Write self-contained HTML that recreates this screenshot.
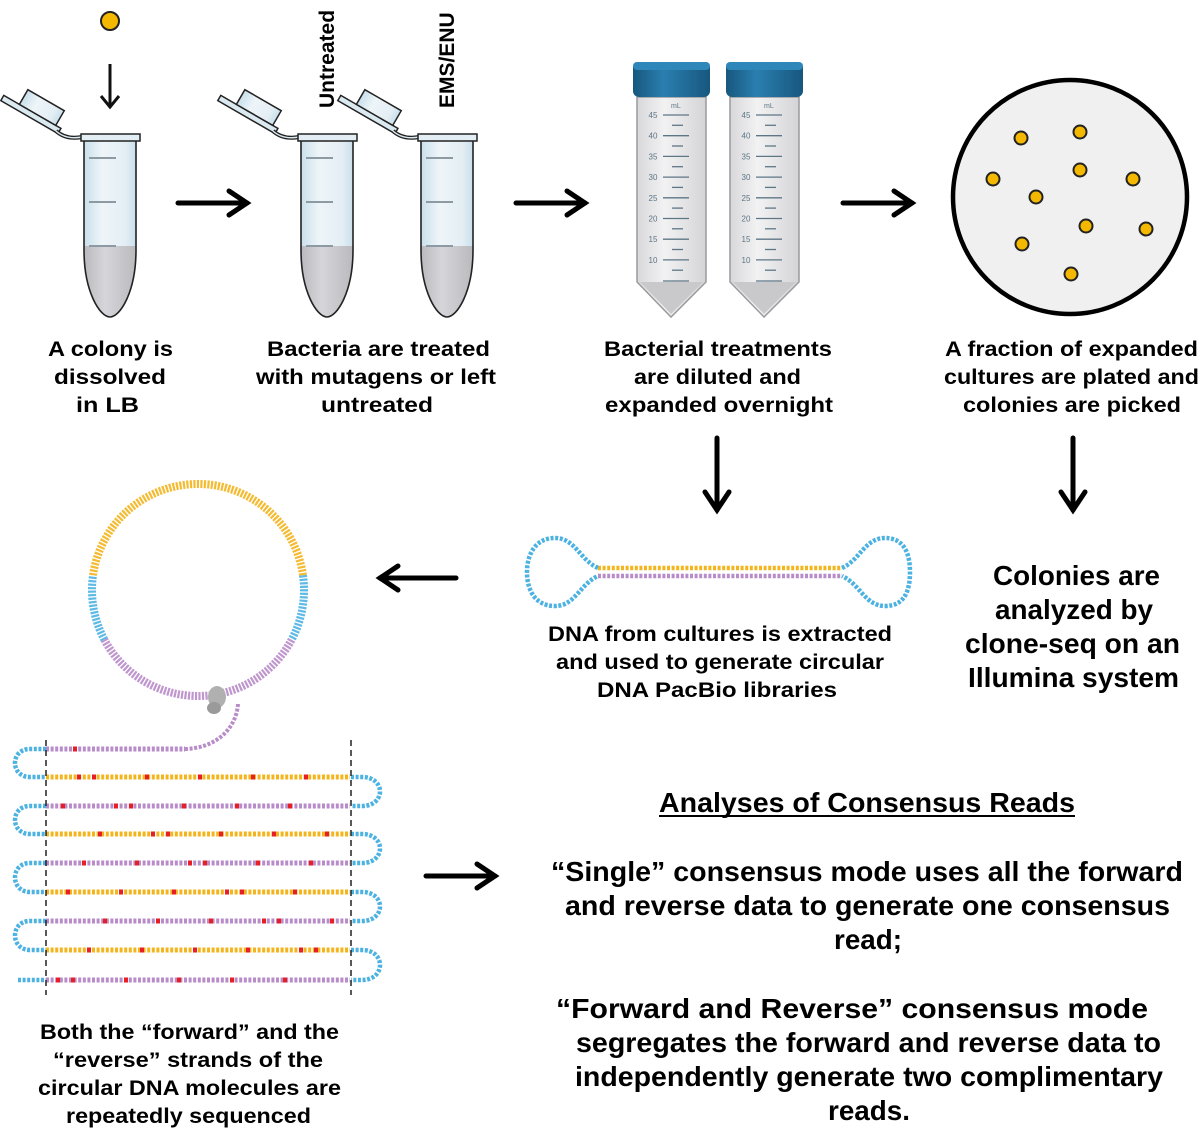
<!DOCTYPE html>
<html><head><meta charset="utf-8"><style>
html,body{margin:0;padding:0;background:#fff}
svg{display:block}
text{font-family:"Liberation Sans",Arial,sans-serif;font-weight:bold;fill:#000}
</style></head><body>
<svg id="s" width="1200" height="1130" viewBox="0 0 1200 1130" xmlns="http://www.w3.org/2000/svg">
<defs>
<linearGradient id="tg" x1="0" x2="1" y1="0" y2="0">
<stop offset="0" stop-color="#c9dfeb"/><stop offset="0.35" stop-color="#eef5f9"/><stop offset="0.8" stop-color="#e3eef4"/><stop offset="1" stop-color="#c9dfeb"/></linearGradient>
<linearGradient id="lg" x1="0" x2="1"><stop offset="0" stop-color="#b9b9be"/><stop offset="0.4" stop-color="#d6d6da"/><stop offset="1" stop-color="#b9b9be"/></linearGradient>
<linearGradient id="cg" x1="0" x2="1"><stop offset="0" stop-color="#17577e"/><stop offset="0.4" stop-color="#2a7fb0"/><stop offset="1" stop-color="#17577e"/></linearGradient>
<linearGradient id="bg" x1="0" x2="1"><stop offset="0" stop-color="#d8d8db"/><stop offset="0.4" stop-color="#f2f2f3"/><stop offset="1" stop-color="#d4d4d7"/></linearGradient>
<g id="ep">
<g transform="translate(30,114) rotate(30)">
<rect x="-32" y="-3" width="66" height="6" fill="#dbe9f1" stroke="#222" stroke-width="1.5"/>
<rect x="-14" y="-20" width="42" height="17" fill="url(#tg)" stroke="#222" stroke-width="1.5"/>
</g>
<path d="M56,131 Q66,140 82,137" fill="none" stroke="#222" stroke-width="4"/>
<path d="M56,131 Q66,140 82,137" fill="none" stroke="#dbe9f1" stroke-width="1.5"/>
<path d="M84,141 L84,250 C84,292 100,317 110,317 C120,317 136,292 136,250 L136,141 Z" fill="url(#tg)"/>
<path d="M84,246 L84,250 C84,292 100,317 110,317 C120,317 136,292 136,250 L136,246 Z" fill="url(#lg)"/>
<path d="M84,141 L84,250 C84,292 100,317 110,317 C120,317 136,292 136,250 L136,141" fill="none" stroke="#222" stroke-width="1.6"/>
<rect x="81" y="134" width="59" height="7" fill="#e3eef4" stroke="#222" stroke-width="1.5"/>
<g stroke="#8d9aa3" stroke-width="2"><line x1="89" y1="158" x2="116" y2="158"/><line x1="89" y1="202" x2="116" y2="202"/><line x1="89" y1="246" x2="116" y2="246"/></g>
</g>
<g id="fal">
<path d="M637,97 L637,282 L671,317 L706,282 L706,97 Z" fill="url(#bg)" stroke="#9a9a9e" stroke-width="1.5"/>
<path d="M640,282 L671,314 L703,282 Z" fill="#c9c9cc"/>
<rect x="633" y="62" width="77" height="35" rx="6" fill="url(#cg)"/>
<rect x="633" y="62" width="77" height="8" rx="4" fill="#2f86b8"/>
<text x="671" y="108" style="font-weight:normal;fill:#5d7686" font-size="7">mL</text>
</g>
</defs>

<circle cx="110" cy="21" r="9" fill="#f5b800" stroke="#222" stroke-width="2"/>
<g stroke="#111" stroke-width="3" fill="none"><line x1="110" y1="64" x2="110" y2="106"/><polyline points="101,96 110,107 119,96"/></g>

<use href="#ep"/>
<use href="#ep" x="217"/>
<use href="#ep" x="337"/>
<text transform="translate(334,108) rotate(-90)" font-size="21">Untreated</text>
<text transform="translate(454,108) rotate(-90)" font-size="21">EMS/ENU</text>

<use href="#fal"/>
<use href="#fal" x="93"/>
<g id="grad"></g>

<circle cx="1070" cy="197" r="117" fill="#f0f0f0" stroke="#000" stroke-width="4.5"/>
<g fill="#f5b800" stroke="#222" stroke-width="2">
<circle cx="1021" cy="138" r="6.5"/><circle cx="1080" cy="132" r="6.5"/><circle cx="1080" cy="170" r="6.5"/>
<circle cx="993" cy="179" r="6.5"/><circle cx="1036" cy="197" r="6.5"/><circle cx="1133" cy="179" r="6.5"/>
<circle cx="1022" cy="244" r="6.5"/><circle cx="1086" cy="226" r="6.5"/><circle cx="1146" cy="229" r="6.5"/>
<circle cx="1071" cy="274" r="6.5"/>
</g>

<g stroke="#000" stroke-width="5" fill="none" stroke-linecap="round">
<line x1="178" y1="203" x2="247" y2="203"/><polyline points="229,191 247,203 229,215"/>
<line x1="516" y1="203" x2="585" y2="203"/><polyline points="567,191 585,203 567,215"/>
<line x1="843" y1="203" x2="912" y2="203"/><polyline points="894,191 912,203 894,215"/>
<line x1="717" y1="438" x2="717" y2="510"/><polyline points="705,492 717,510 729,492"/>
<line x1="1073" y1="438" x2="1073" y2="510"/><polyline points="1061,492 1073,510 1085,492"/>
<line x1="456" y1="578" x2="380" y2="578"/><polyline points="398,566 380,578 398,590"/>
<line x1="426" y1="876" x2="495" y2="876"/><polyline points="477,864 495,876 477,888"/>
</g>

<g id="dna"></g>

<g font-size="21">
<text x="48" y="356" textLength="125" lengthAdjust="spacingAndGlyphs">A colony is</text><text x="54" y="384" textLength="112" lengthAdjust="spacingAndGlyphs">dissolved</text><text x="76" y="412" textLength="63" lengthAdjust="spacingAndGlyphs">in LB</text>
<text x="267" y="356" textLength="223" lengthAdjust="spacingAndGlyphs">Bacteria are treated</text><text x="256" y="384" textLength="240" lengthAdjust="spacingAndGlyphs">with mutagens or left</text><text x="321" y="412" textLength="112" lengthAdjust="spacingAndGlyphs">untreated</text>
<text x="604" y="356" textLength="228" lengthAdjust="spacingAndGlyphs">Bacterial treatments</text><text x="634" y="384" textLength="167" lengthAdjust="spacingAndGlyphs">are diluted and</text><text x="605" y="412" textLength="228" lengthAdjust="spacingAndGlyphs">expanded overnight</text>
<text x="945" y="356" textLength="253" lengthAdjust="spacingAndGlyphs">A fraction of expanded</text><text x="944" y="384" textLength="255" lengthAdjust="spacingAndGlyphs">cultures are plated and</text><text x="963" y="412" textLength="218" lengthAdjust="spacingAndGlyphs">colonies are picked</text>
<text x="548" y="641" textLength="344" lengthAdjust="spacingAndGlyphs">DNA from cultures is extracted</text><text x="556" y="669" textLength="328" lengthAdjust="spacingAndGlyphs">and used to generate circular</text><text x="597" y="697" textLength="240" lengthAdjust="spacingAndGlyphs">DNA PacBio libraries</text>
<text x="40" y="1039" textLength="299" lengthAdjust="spacingAndGlyphs">Both the “forward” and the</text><text x="53" y="1067" textLength="270" lengthAdjust="spacingAndGlyphs">“reverse” strands of the</text><text x="38" y="1095" textLength="303" lengthAdjust="spacingAndGlyphs">circular DNA molecules are</text><text x="66" y="1123" textLength="245" lengthAdjust="spacingAndGlyphs">repeatedly sequenced</text>
</g>
<g font-size="28">
<text x="993" y="585" textLength="167" lengthAdjust="spacingAndGlyphs">Colonies are</text><text x="995" y="619" textLength="158" lengthAdjust="spacingAndGlyphs">analyzed by</text><text x="965" y="653" textLength="215" lengthAdjust="spacingAndGlyphs">clone-seq on an</text><text x="968" y="687" textLength="211" lengthAdjust="spacingAndGlyphs">Illumina system</text>
<text x="659" y="812" textLength="416" lengthAdjust="spacingAndGlyphs">Analyses of Consensus Reads</text>
<text x="551" y="881" textLength="632" lengthAdjust="spacingAndGlyphs">“Single” consensus mode uses all the forward</text>
<text x="565" y="915" textLength="605" lengthAdjust="spacingAndGlyphs">and reverse data to generate one consensus</text>
<text x="834" y="949" textLength="68" lengthAdjust="spacingAndGlyphs">read;</text>
<text x="556" y="1018" textLength="592" lengthAdjust="spacingAndGlyphs">“Forward and Reverse” consensus mode</text>
<text x="576" y="1052" textLength="585" lengthAdjust="spacingAndGlyphs">segregates the forward and reverse data to</text>
<text x="575" y="1086" textLength="588" lengthAdjust="spacingAndGlyphs">independently generate two complimentary</text>
<text x="828" y="1120" textLength="82" lengthAdjust="spacingAndGlyphs">reads.</text>
</g>
<line x1="659" y1="816" x2="1075" y2="816" stroke="#000" stroke-width="2"/>
</svg>
<script>
var NS="http://www.w3.org/2000/svg";
function el(p,t,a){var e=document.createElementNS(NS,t);for(var k in a)e.setAttribute(k,a[k]);p.appendChild(e);return e;}
var g=document.getElementById("grad");
[0,93].forEach(function(o){
 var nums=[45,40,35,30,25,20,15,10];
 nums.forEach(function(n,i){var y=115+i*20.7;
  var t=el(g,"text",{x:653+o,y:y+3,"font-size":"8","text-anchor":"middle",style:"font-weight:normal;fill:#5d7686"});t.textContent=n;
  el(g,"line",{x1:663+o,y1:y,x2:689+o,y2:y,stroke:"#5d7686","stroke-width":"1.3"});
  el(g,"line",{x1:672+o,y1:y+10.3,x2:683+o,y2:y+10.3,stroke:"#5d7686","stroke-width":"1.3"});
 });
 el(g,"line",{x1:663+o,y1:281,x2:689+o,y2:281,stroke:"#5d7686","stroke-width":"1.3"});
});
var d=document.getElementById("dna");
var Y="#f3b41c",P="#b88bc9",B="#4cb2e2",R="#e61e25";
function strand(path,col,w){el(d,"path",{d:path,fill:"none",stroke:col,"stroke-width":w||5,"stroke-dasharray":"3 1.6"});}
function dbl(path,col){el(d,"path",{d:path,fill:"none",stroke:col,"stroke-width":8,"stroke-dasharray":"2.2 1.3",opacity:"0.9"});}
var cx=198,cy=590,r=106;
function arc(a1,a2){var p1=[cx+r*Math.cos(a1*Math.PI/180),cy+r*Math.sin(a1*Math.PI/180)],p2=[cx+r*Math.cos(a2*Math.PI/180),cy+r*Math.sin(a2*Math.PI/180)];
 var large=((a2-a1+360)%360)>180?1:0;return "M"+p1[0]+","+p1[1]+" A"+r+","+r+" 0 "+large+" 1 "+p2[0]+","+p2[1];}
dbl(arc(188,352),Y);dbl(arc(352,28),B);dbl(arc(152,188),B);dbl(arc(28,152),P);
strand("M598,568 L842,568",Y,4.5);strand("M598,576 L842,576",P,4.5);
strand("M598,568 C580,560 575,538 555,538 C535,538 527,555 527,572 C527,590 535,606 555,606 C575,606 580,584 598,576",B,4.5);
strand("M842,568 C860,560 865,538 885,538 C905,538 910,555 910,572 C910,590 905,606 885,606 C865,606 860,584 842,576",B,4.5);
el(d,"ellipse",{cx:217,cy:697,rx:9,ry:11,fill:"#b0b0b0"});
el(d,"ellipse",{cx:214,cy:708,rx:7,ry:6,fill:"#9a9a9a"});
strand("M238,704 C236,730 215,748 185,749",P,4);
var ys=[749,777,806,834,863,892,921,950,980];
ys.forEach(function(y,i){var col=i%2==0?P:Y;var x2=(i==0)?185:350;strand("M46,"+y+" L"+x2+","+y,col,5);
 for(var k=0;k<6;k++){var x=55+((i*37+k*53)%280);if(i==0&&k>0)continue;if(i==0)x=73;el(d,"rect",{x:x,y:y-2.5,width:4,height:5,fill:R});}
});
for(var i=0;i<4;i++){var a=ys[2*i],b=ys[2*i+1];strand("M46,"+a+" L30,"+a+" C10,"+a+" 10,"+b+" 30,"+b+" L46,"+b,B,4.5);}
for(var i=0;i<4;i++){var a=ys[2*i+1],b=ys[2*i+2];strand("M351,"+a+" L362,"+a+" C386,"+a+" 386,"+b+" 362,"+b+" L351,"+b,B,4.5);}
strand("M18,980 L46,980",B,4.5);
el(d,"line",{x1:46,y1:740,x2:46,y2:995,stroke:"#222","stroke-width":1.5,"stroke-dasharray":"6 4"});
el(d,"line",{x1:351,y1:740,x2:351,y2:995,stroke:"#222","stroke-width":1.5,"stroke-dasharray":"6 4"});
</script>
</body></html>
